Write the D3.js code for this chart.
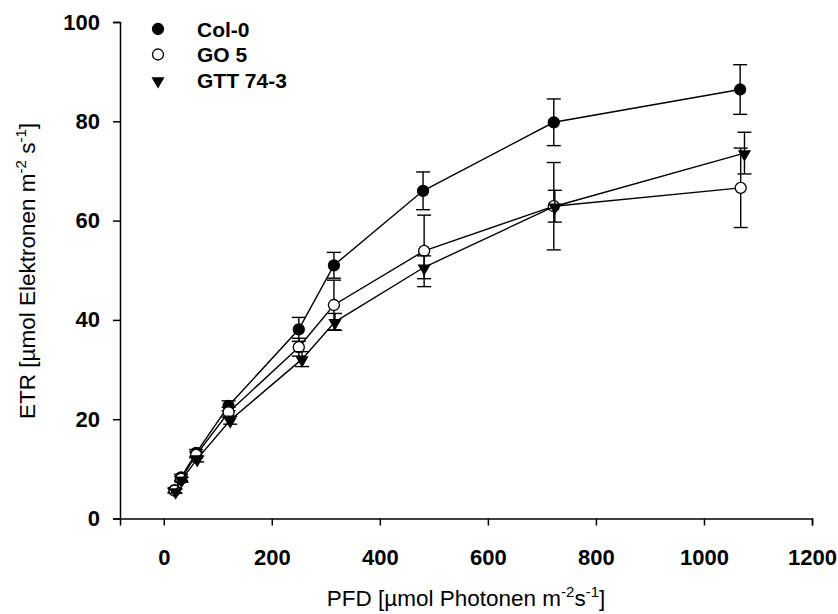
<!DOCTYPE html>
<html><head><meta charset="utf-8">
<script src="https://cdn.jsdelivr.net/npm/d3@7"></script>
<style>body{margin:0;background:#fff}svg{display:block}text{font-family:"Liberation Sans",Arial,sans-serif}</style>
</head><body>
<svg id="c" width="838" height="614"></svg>
<script>
const seriesNames = ["Col-0", "GO 5", "GTT 74-3"];
const col0X = [20, 32, 60, 120, 250, 315, 480, 722, 1067];
const col0Y = [5.7, 8.3, 13.2, 22.7, 38.1, 51.0, 66.0, 79.8, 86.4];
const col0E = [0.5, 0.6, 0.7, 1.0, 2.4, 2.6, 3.8, 4.7, 5.0];
const go5X = [20, 32, 60, 120, 250, 315, 482, 722, 1068];
const go5Y = [5.6, 8.0, 12.8, 21.4, 34.5, 43.0, 53.9, 62.9, 66.6];
const go5E = [0.4, 0.5, 0.6, 1.0, 1.8, 5.0, 7.2, 8.8, 8.0];
const gttX = [22, 33, 62, 123, 256, 317, 482, 724, 1075];
const gttY = [5.5, 7.8, 12.0, 19.8, 32.1, 39.6, 50.6, 62.9, 73.6];
const gttE = [0.4, 0.5, 0.6, 0.8, 1.5, 1.7, 2.3, 3.2, 4.2];
const xTicks = [0, 200, 400, 600, 800, 1000, 1200];
const yTicks = [0, 20, 40, 60, 80, 100];

const svg = d3.select("#c");
const x = d3.scaleLinear().domain([-81, 1200]).range([120, 812]);
const y = d3.scaleLinear().domain([0, 100]).range([518.5, 22]);

const xa = svg.append("g").attr("transform", "translate(0,518.5)")
  .call(d3.axisBottom(x).tickValues(xTicks).tickFormat(d3.format("d")).tickSizeOuter(0).tickSize(7).tickPadding(24));
const ya = svg.append("g").attr("transform", "translate(120,0)")
  .call(d3.axisLeft(y).tickValues(yTicks).tickFormat(d3.format("d")).tickSizeOuter(0).tickSize(7).tickPadding(13));
[xa, ya].forEach(a => {
  a.selectAll("path,line").attr("stroke", "#000").attr("stroke-width", 1.5);
  a.selectAll("text").attr("font-size", 22).attr("font-weight", "bold").attr("fill", "#000")
    .attr("font-family", "Liberation Sans, Arial, sans-serif");
});

const series = [
  {name: seriesNames[0], xs: col0X, ys: col0Y, es: col0E, type: "filled"},
  {name: seriesNames[1], xs: go5X, ys: go5Y, es: go5E, type: "open"},
  {name: seriesNames[2], xs: gttX, ys: gttY, es: gttE, type: "tri"}
];

const line = d3.line().x(d => x(d.x)).y(d => y(d.y));
const triPath = d3.symbol().type(d3.symbolTriangle).size(75)();

function marker(g, type, cx, cy) {
  if (type === "tri") {
    g.append("path").attr("d", triPath).attr("transform", `translate(${cx},${cy + 1}) rotate(180)`).attr("fill", "#000");
  } else {
    g.append("circle").attr("cx", cx).attr("cy", cy).attr("r", 5.5)
      .attr("fill", type === "filled" ? "#000" : "#fff").attr("stroke", "#000").attr("stroke-width", 1.3);
  }
}

series.forEach(s => {
  const pts = s.xs.map((v, i) => ({x: v, y: s.ys[i], e: s.es[i]}));
  const g = svg.append("g");
  pts.forEach(p => {
    const cx = x(p.x), t = y(p.y + p.e), b = y(p.y - p.e);
    g.append("line").attr("x1", cx).attr("x2", cx).attr("y1", t).attr("y2", b).attr("stroke", "#000").attr("stroke-width", 1.4);
    [t, b].forEach(yy => g.append("line").attr("x1", cx - 7).attr("x2", cx + 7).attr("y1", yy).attr("y2", yy).attr("stroke", "#000").attr("stroke-width", 1.4));
  });
  g.append("path").attr("d", line(pts)).attr("fill", "none").attr("stroke", "#000").attr("stroke-width", 1.4);
  pts.forEach(p => marker(g, s.type, x(p.x), y(p.y)));
});

// legend
const lg = svg.append("g");
series.forEach((s, i) => {
  const yy = 29 + i * 25.5;
  marker(lg, s.type, 158, yy);
  lg.append("text").attr("x", 197).attr("y", yy + 7.5).attr("font-size", 21).attr("font-weight", "bold").text(s.name);
});

// axis titles
const xt = svg.append("text").attr("x", 466).attr("y", 606).attr("text-anchor", "middle").attr("font-size", 22.5);
xt.append("tspan").text("PFD [µmol Photonen m");
xt.append("tspan").attr("dy", -9).attr("font-size", 15).text("-2");
xt.append("tspan").attr("dy", 9).text("s");
xt.append("tspan").attr("dy", -9).attr("font-size", 15).text("-1");
xt.append("tspan").attr("dy", 9).text("]");

const yt = svg.append("text").attr("transform", "translate(35,271) rotate(-90)").attr("text-anchor", "middle").attr("font-size", 22.5);
yt.append("tspan").text("ETR [µmol Elektronen m");
yt.append("tspan").attr("dy", -9).attr("font-size", 15).text("-2");
yt.append("tspan").attr("dy", 9).text(" s");
yt.append("tspan").attr("dy", -9).attr("font-size", 15).text("-1");
yt.append("tspan").attr("dy", 9).text("]");
</script>
</body></html>
